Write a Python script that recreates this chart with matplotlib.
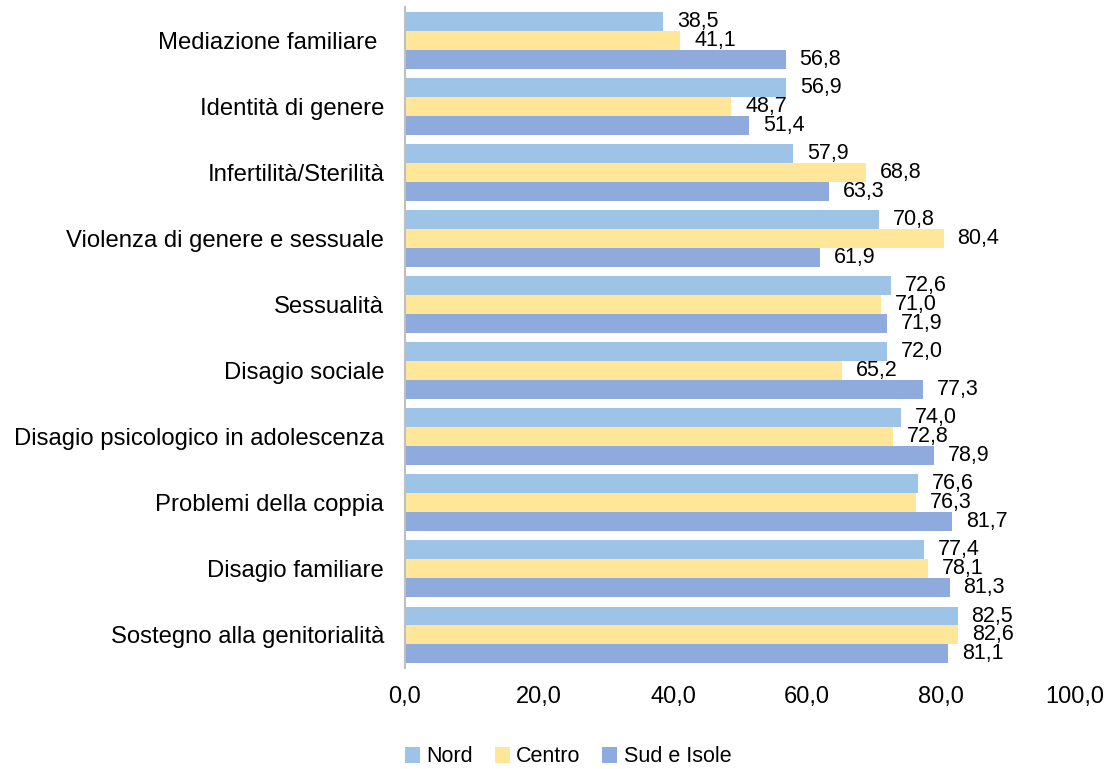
import matplotlib
matplotlib.use("Agg")
import matplotlib.pyplot as plt
import numpy as np

categories = [
    "Mediazione familiare ",
    "Identità di genere",
    "Infertilità/Sterilità",
    "Violenza di genere e sessuale",
    "Sessualità",
    "Disagio sociale",
    "Disagio psicologico in adolescenza",
    "Problemi della coppia",
    "Disagio familiare",
    "Sostegno alla genitorialità",
]
nord = [38.5, 56.9, 57.9, 70.8, 72.6, 72.0, 74.0, 76.6, 77.4, 82.5]
centro = [41.1, 48.7, 68.8, 80.4, 71.0, 65.2, 72.8, 76.3, 78.1, 82.6]
sud = [56.8, 51.4, 63.3, 61.9, 71.9, 77.3, 78.9, 81.7, 81.3, 81.1]

series = [("Nord", nord, "#9DC3E6"),
          ("Centro", centro, "#FFE699"),
          ("Sud e Isole", sud, "#8FAADC")]

plt.rcParams["font.family"] = ["Liberation Sans", "DejaVu Sans"]

fig = plt.figure(figsize=(11.12, 7.69), dpi=100)
ax = fig.add_axes([0.3642, 0.1313, 0.6025, 0.8596])

y = np.arange(len(categories))
h = 0.287
for i, (name, vals, color) in enumerate(series):
    pos = y + (i - 1) * h
    ax.barh(pos, vals, height=h, color=color, label=name)
    for p, v in zip(pos, vals):
        ax.annotate(f"{v:.1f}".replace(".", ","), (v, p), xytext=(10, 0),
                    textcoords="offset points", va="center", ha="left",
                    fontsize=15.5)

ax.set_xlim(0, 100)
ax.set_ylim(len(categories) - 0.5, -0.5)
ax.set_xticks(np.arange(0, 101, 20))
ax.set_xticklabels([f"{t:.1f}".replace(".", ",") for t in np.arange(0, 101, 20)],
                   fontsize=17)
ax.set_yticks(y)
ax.set_yticklabels(categories, fontsize=17.2)
ax.tick_params(axis="both", length=0)
ax.tick_params(axis="x", pad=13)
ax.tick_params(axis="y", pad=15)
for s in ["top", "right", "bottom"]:
    ax.spines[s].set_visible(False)
ax.spines["left"].set_color("#BFBFBF")
ax.spines["left"].set_linewidth(1.5)

fig.legend(loc="center", bbox_to_anchor=(568 / 1112, 1 - 757 / 769), ncol=3,
           frameon=False, fontsize=15.5, handlelength=0.7, handleheight=0.7,
           handletextpad=0.3, columnspacing=1.0)

fig.savefig("out.png", dpi=100)
